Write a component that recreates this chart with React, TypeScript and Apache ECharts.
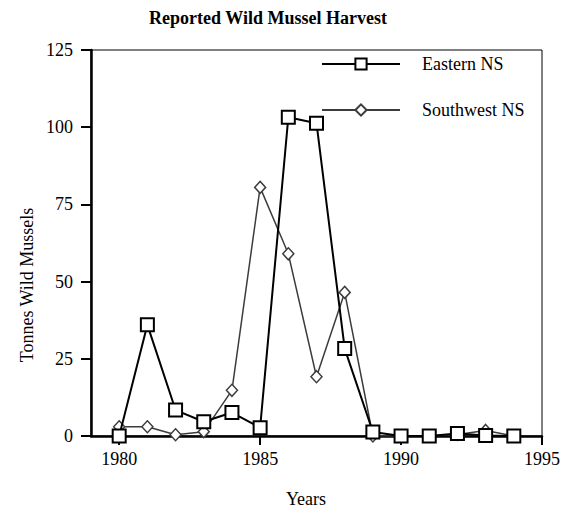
import React, { useEffect, useRef } from "react";
import * as echarts from "echarts";

const years = [1980, 1981, 1982, 1983, 1984, 1985, 1986, 1987, 1988, 1989, 1990, 1991, 1992, 1993, 1994];
const easternNS = [0, 36, 8.4, 4.6, 7.6, 2.7, 103.2, 101.3, 28.3, 1.3, 0, 0, 0.8, 0.2, 0];
const southwestNS = [3, 3, 0.4, 1.4, 14.8, 80.5, 59, 19.2, 46.5, 0, 0, 0, 0.5, 1.8, 0];
const xTicks = [1980, 1985, 1990, 1995];
const FONT = "Liberation Serif";

export default function App() {
  const ref = useRef<HTMLDivElement>(null);
  useEffect(() => {
    if (!ref.current) return;
    const chart = echarts.init(ref.current, null, { renderer: "svg" });
    chart.setOption({
      animation: false,
      backgroundColor: "#fff",
      textStyle: { fontFamily: FONT },
      grid: {
        left: 91,
        top: 50,
        right: 21,
        bottom: 75,
        show: true,
        borderColor: "#000",
        borderWidth: 1,
        backgroundColor: "transparent",
      },
      legend: {
        left: 316,
        top: 50,
        orient: "vertical",
        itemWidth: 78,
        itemHeight: 14,
        itemGap: 28,
        data: ["Eastern NS", "Southwest NS"],
        textStyle: { fontFamily: FONT, fontSize: 18, color: "#000", padding: [0, 0, 0, 17] },
      },
      xAxis: {
        type: "value",
        min: 1979,
        max: 1995,
        splitLine: { show: false },
        axisLine: { onZero: false, lineStyle: { color: "#000", width: 2.5 } },
        axisTick: { show: true, length: 9, customValues: xTicks, lineStyle: { color: "#000", width: 2 } },
        axisLabel: {
          customValues: xTicks,
          margin: 14,
          fontFamily: FONT,
          fontSize: 18,
          color: "#000",
          formatter: (v: number) => String(v),
        },
      },
      yAxis: {
        type: "value",
        min: 0,
        max: 125,
        interval: 25,
        splitLine: { show: false },
        axisLine: { show: true, lineStyle: { color: "#000", width: 2.5 } },
        axisTick: { show: true, length: 10, lineStyle: { color: "#000", width: 2 } },
        axisLabel: { margin: 18, fontFamily: FONT, fontSize: 18, color: "#000" },
      },
      graphic: [
        {
          type: "text",
          x: 268,
          y: 18,
          style: {
            text: "Reported Wild Mussel Harvest",
            font: `bold 18px ${FONT}`,
            fill: "#000",
            textAlign: "center",
            textVerticalAlign: "middle",
          },
        },
        {
          type: "text",
          x: 306,
          y: 499,
          style: {
            text: "Years",
            font: `18px ${FONT}`,
            fill: "#000",
            textAlign: "center",
            textVerticalAlign: "middle",
          },
        },
        {
          type: "text",
          x: 27,
          y: 285,
          rotation: Math.PI / 2,
          style: {
            text: "Tonnes Wild Mussels",
            font: `18px ${FONT}`,
            fill: "#000",
            textAlign: "center",
            textVerticalAlign: "middle",
          },
        },
      ],
      series: [
        {
          name: "Southwest NS",
          type: "line",
          data: years.map((y, i) => [y, southwestNS[i]]),
          symbol: "diamond",
          symbolSize: [11, 12],
          lineStyle: { color: "#3c3c3c", width: 1.5 },
          itemStyle: { color: "#fff", borderColor: "#3c3c3c", borderWidth: 1.5 },
          z: 2,
        },
        {
          name: "Eastern NS",
          type: "line",
          data: years.map((y, i) => [y, easternNS[i]]),
          symbol: "rect",
          symbolSize: 13,
          lineStyle: { color: "#000", width: 2 },
          itemStyle: { color: "#fff", borderColor: "#000", borderWidth: 2 },
          z: 3,
        },
      ],
    });
    return () => chart.dispose();
  }, []);
  return <div ref={ref} style={{ width: 563, height: 511, position: "fixed", left: 0, top: 0 }} />;
}
